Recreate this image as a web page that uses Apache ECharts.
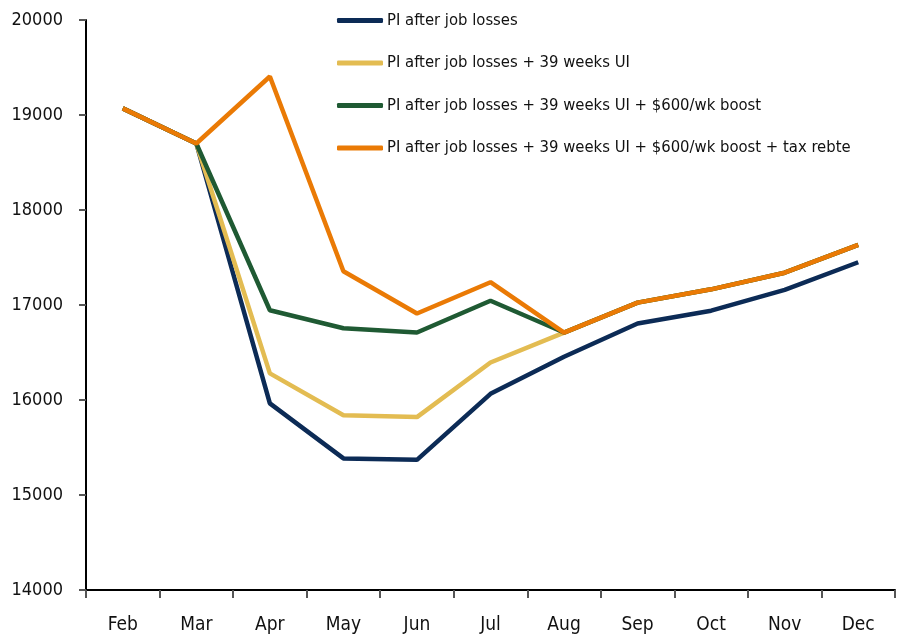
<!DOCTYPE html>
<html>
<head>
<meta charset="utf-8">
<script src="https://cdn.jsdelivr.net/npm/echarts@6/dist/echarts.min.js"></script>
<style>
  html, body { margin: 0; padding: 0; background: #fff; }
  #chart { width: 920px; height: 642px; }
</style>
</head>
<body>
<div id="chart"></div>
<script>
// months on the x axis
const months = ['Feb', 'Mar', 'Apr', 'May', 'Jun', 'Jul', 'Aug', 'Sep', 'Oct', 'Nov', 'Dec']

// personal income paths
const piJobLosses = [19070, 18700, 15965, 15385, 15370, 16065, 16455, 16805, 16940, 17160, 17450]
const piWithUI = [19070, 18700, 16280, 15840, 15820, 16395, 16710, 17025, 17165, 17340, 17632]
const piWithBoost = [19070, 18700, 16945, 16755, 16710, 17045, 16710, 17025, 17165, 17340, 17632]
const piWithRebate = [19070, 18700, 19405, 17355, 16910, 17240, 16710, 17025, 17165, 17340, 17632]

const seriesNames = [
  'PI after job losses',
  'PI after job losses + 39 weeks UI',
  'PI after job losses + 39 weeks UI + $600/wk boost',
  'PI after job losses + 39 weeks UI + $600/wk boost + tax rebte'
]
const colors = ['#0c2b56', '#e3bc52', '#1f5a33', '#ea7a05']

// no narrow font installed, condensed DejaVu is the closest
const font = '"Liberation Sans Narrow", "DejaVu Sans Condensed", "Liberation Sans", sans-serif'

const chart = echarts.init(document.getElementById('chart'))

function lineSeries(name, data, color) {
  return {
    name: name,
    type: 'line',
    data: data,
    symbol: 'none',
    lineStyle: { color: color, width: 4.5 },
    itemStyle: { color: color },
    animation: false
  }
}

chart.setOption({
  textStyle: { fontFamily: font },
  grid: {
    left: 86,
    right: 25,
    top: 20,
    bottom: 52,
    containLabel: false,
    outerBoundsMode: 'none'
  },
  legend: {
    orient: 'vertical',
    left: 337,
    top: 12,
    padding: 0,
    itemWidth: 46,
    itemHeight: 5,
    itemGap: 25.5,
    icon: 'roundRect',
    textStyle: { fontFamily: font, fontSize: 16.5, color: '#111', padding: [0, 0, 0, -1] },
    data: seriesNames
  },
  xAxis: {
    type: 'category',
    data: months,
    boundaryGap: true,
    axisLine: { lineStyle: { color: '#000', width: 2 } },
    axisTick: { show: true, length: 8, lineStyle: { color: '#555', width: 2 } },
    axisLabel: { color: '#111', fontSize: 19, margin: 26, fontFamily: font },
    splitLine: { show: false }
  },
  yAxis: {
    type: 'value',
    min: 14000,
    max: 20000,
    interval: 1000,
    axisLine: { show: true, lineStyle: { color: '#000', width: 2 } },
    axisTick: { show: true, length: 7, lineStyle: { color: '#555', width: 2 } },
    axisLabel: { color: '#111', fontSize: 18, margin: 23, fontFamily: font, formatter: v => String(v) },
    splitLine: { show: false }
  },
  series: [
    lineSeries(seriesNames[0], piJobLosses, colors[0]),
    lineSeries(seriesNames[1], piWithUI, colors[1]),
    lineSeries(seriesNames[2], piWithBoost, colors[2]),
    lineSeries(seriesNames[3], piWithRebate, colors[3])
  ]
})
</script>
</body>
</html>
